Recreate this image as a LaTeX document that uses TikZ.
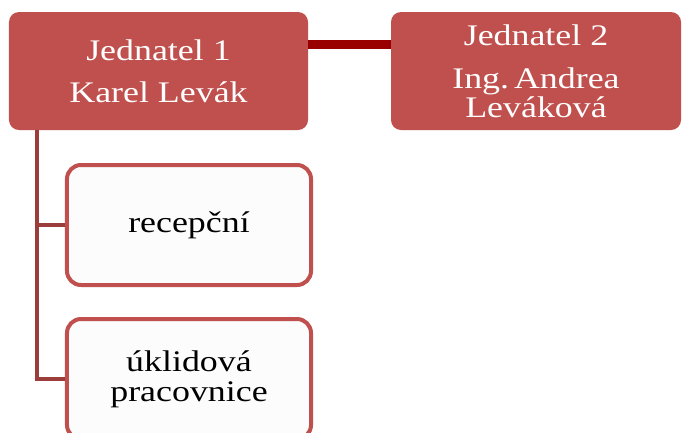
\documentclass[tikz,border=0pt]{standalone}
\usepackage{fontspec}
\setmainfont{Liberation Serif}[FakeStretch=1.2]
\definecolor{boxred}{HTML}{C0504D}
\definecolor{linkred}{HTML}{990000}
\definecolor{trunkred}{HTML}{9B3D3B}
\definecolor{childfill}{HTML}{FCFCFC}
\tikzset{
  topbox/.style={draw=none, fill=boxred, rounded corners=10bp, text=white, align=center, inner sep=0pt},
  childbox/.style={draw=boxred, line width=4bp, fill=childfill, rounded corners=14bp, text=black, align=center, inner sep=0pt, minimum width=244bp, minimum height=120bp},
  linkline/.style={draw=linkred, line width=9bp},
  trunkline/.style={draw=trunkred, line width=4.5bp}
}
\begin{document}
\begin{tikzpicture}[x=1bp,y=-1bp]
\useasboundingbox (0,0) rectangle (682,432);
\clip (0,0) rectangle (682,432);
\node[topbox, minimum width=299bp, minimum height=118bp, font={\fontsize{30}{42}\selectfont}] (b1) at (158.5,71) {Jednatel 1\\Karel Levák};
\node[topbox, minimum width=290bp, minimum height=118bp, font={\fontsize{30}{29}\selectfont}] (b2) at (536,71) {Jednatel 2\\[14bp]Ing.\,Andrea\\Leváková};
\node[childbox, font={\fontsize{30}{30}\selectfont}] (c1) at (189,225) {recepční};
\node[childbox, font={\fontsize{30}{30}\selectfont}] (c2) at (189,379) {úklidová\\pracovnice};
\coordinate (t) at (37,0);
\draw[linkline] (b1.east |- 0,44) -- (b2.west |- 0,44);
\draw[trunkline] (t |- b1.south) |- (c1.west);
\draw[trunkline] (t |- c1.west) |- (c2.west);
\end{tikzpicture}
\end{document}
